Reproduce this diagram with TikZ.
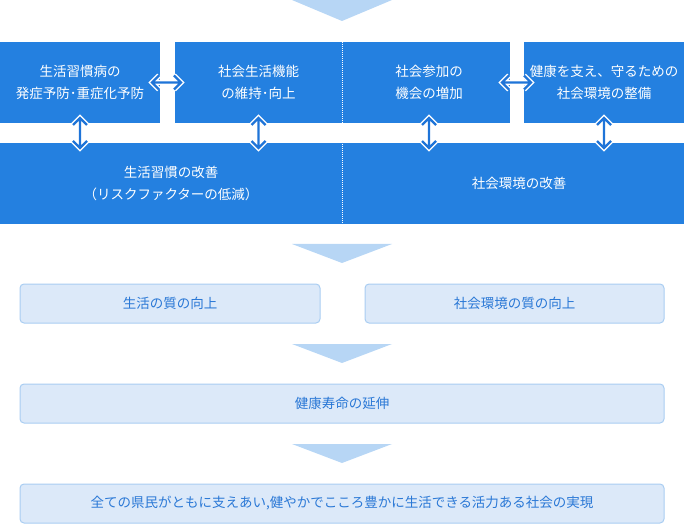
\documentclass[tikz,border=0pt]{standalone}
\usepackage{fontspec}
\setmainfont{Noto Sans CJK JP}
\usetikzlibrary{calc}
\definecolor{dkblue}{HTML}{2480E0}
\definecolor{arblue}{HTML}{1E74D8}
\definecolor{tri}{HTML}{B7D6F5}
\definecolor{ltfill}{HTML}{DCE9F9}
\definecolor{ltdraw}{HTML}{A9CDF2}
\definecolor{lttext}{HTML}{2A78D6}
\tikzset{
  dk/.style={fill=dkblue, text=white, inner sep=0pt, outer sep=0pt, anchor=north west,
    align=center, font=\fontsize{13.5}{22}\selectfont},
  lt/.style={fill=ltfill, draw=ltdraw, line width=1pt, rounded corners=4pt, text=lttext,
    inner sep=0pt, outer sep=0pt, anchor=north west, minimum height=39pt,
    align=center, font=\fontsize{13.5}{16}\selectfont},
  arwbg/.style={draw=white, line width=5pt, line cap=butt, line join=miter},
  arw/.style={draw=arblue, line width=2.4pt, line cap=butt, line join=miter},
  tridown/.style={fill=tri}
}
\newcommand\dblarrH[2]{%
  \foreach \st in {arwbg,arw}{
    \draw[\st] ($(#1)+(7,-7)$) -- (#1) -- ($(#1)+(7,7)$) (#1) -- (#2)
      ($(#2)+(-7,-7)$) -- (#2) -- ($(#2)+(-7,7)$);
  }}
\newcommand\dblarrV[2]{%
  \foreach \st in {arwbg,arw}{
    \draw[\st] ($(#1)+(-7,7)$) -- (#1) -- ($(#1)+(7,7)$) (#1) -- (#2)
      ($(#2)+(-7,-7)$) -- (#2) -- ($(#2)+(7,-7)$);
  }}
\begin{document}
\begin{tikzpicture}[x=1pt,y=-1pt]
\useasboundingbox (0,0) rectangle (684,526);
% top triangle
\fill[tridown] (292,0) -- (392,0) -- (342,21) -- cycle;
% top row
\node[dk, minimum width=160pt, minimum height=81pt] (b1) at (0,42) {生活習慣病の\\発症予防･重症化予防};
\node[dk, minimum width=167pt, minimum height=81pt] (b2) at (175,42) {社会生活機能\\の維持･向上};
\node[dk, minimum width=168pt, minimum height=81pt] (b3) at (342,42) {\hspace*{6pt}社会参加の\\\hspace*{6pt}機会の増加};
\node[dk, minimum width=160pt, minimum height=81pt] (b4) at (524,42) {健康を支え、守るための\\社会環境の整備};
% second row
\node[dk, minimum width=342pt, minimum height=81pt] (b5) at (0,143) {生活習慣の改善\\（リスクファクターの低減）};
\node[dk, minimum width=342pt, minimum height=81pt] (b6) at (342,143) {\hspace*{12pt}社会環境の改善};
% dotted separators
\draw[white, line width=0.6pt, dash pattern=on 1pt off 1pt] (b2.north east) -- (b6.south west);
% arrow end points
\coordinate (h1a) at ([xshift=-8pt]b1.east);
\coordinate (h1b) at ([xshift=6pt]b2.west);
\coordinate (h2a) at ([xshift=-8pt]b3.east);
\coordinate (h2b) at ([xshift=7pt]b4.west);
\coordinate (v1a) at ([yshift=5pt]b1.south);
\coordinate (v1b) at ([yshift=-5pt]b1.south |- b5.north);
\coordinate (v2a) at ([yshift=5pt]b2.south);
\coordinate (v2b) at ([yshift=-5pt]b2.south |- b5.north);
\coordinate (v3a) at ([yshift=5pt,xshift=3pt]b3.south);
\coordinate (v3b) at ([yshift=-5pt,xshift=3pt]b3.south |- b6.north);
\coordinate (v4a) at ([yshift=5pt]b4.south);
\coordinate (v4b) at ([yshift=-5pt]b4.south |- b6.north);
\dblarrH{h1a}{h1b}
\dblarrH{h2a}{h2b}
\dblarrV{v1a}{v1b}
\dblarrV{v2a}{v2b}
\dblarrV{v3a}{v3b}
\dblarrV{v4a}{v4b}
% lower flow
\fill[tridown] (292,244) -- (392,244) -- (342,263) -- cycle;
\node[lt, minimum width=300pt] (l1) at (20,284) {生活の質の向上};
\node[lt, minimum width=299pt] (l2) at (365,284) {社会環境の質の向上};
\fill[tridown] (292,344) -- (392,344) -- (342,363) -- cycle;
\node[lt, minimum width=644pt] (l3) at (20,384) {健康寿命の延伸};
\fill[tridown] (292,444) -- (392,444) -- (342,463) -- cycle;
\node[lt, minimum width=644pt] (l4) at (20,484) {全ての県民がともに支えあい,健やかでこころ豊かに生活できる活力ある社会の実現};
\end{tikzpicture}
\end{document}
